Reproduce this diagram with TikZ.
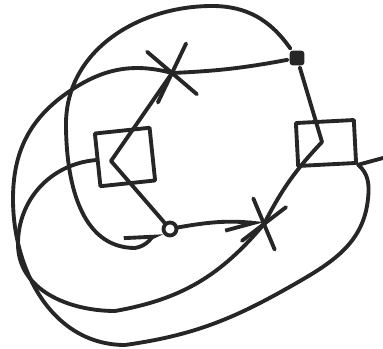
\documentclass[tikz,border=0pt]{standalone}
\usepackage{tikz}
\usetikzlibrary{arrows.meta,shapes.misc}

\begin{document}
\begin{tikzpicture}[
  x=0.02cm, y=0.02cm,
  line width=2.2pt, line cap=round, line join=round, color=black!85,
  cross/.style={cross out, draw, inner sep=0pt, minimum width=0.72cm, minimum height=0.96cm},
  frame/.style={rectangle, draw, inner sep=0pt},
  blob/.style={rectangle, rounded corners=2pt, fill, inner sep=0pt, minimum size=0.3cm},
  ring/.style={circle, draw, inner sep=0pt, minimum size=0.26cm},
  barb/.style={-{Straight Barb[harpoon, length=0.55cm, width=0.45cm]}},
  barbr/.style={-{Straight Barb[harpoon, swap, length=0.55cm, width=0.42cm]}}
]
\useasboundingbox (0,0) rectangle (383,349);

% Vertices
\node[cross, rotate=12] (xtop) at (172,276) {};
\node[blob] (dot) at (297,291) {};
\node[frame, minimum width=1.16cm, minimum height=0.86cm, rotate=3] (rsq) at (326,206) {};
\node[cross, rotate=-15, minimum width=0.6cm, minimum height=0.8cm] (xbot) at (264,125) {};
\node[ring] (circ) at (170,120) {};
\node[frame, minimum width=1.1cm, minimum height=1.06cm, rotate=6] (lsq) at (125,192) {};

% Hubs
\coordinate (lhub) at (111,188);
\coordinate (rhub) at (322,207);
\coordinate (tail) at (383,191);

% Hexagon
\draw (xtop.center) to[bend right=4] (dot);
\draw (dot) -- (rhub);
\draw (rhub) to[bend right=8] (xbot.center);
\draw[barbr] (circ) to[bend left=8] (xbot.center);
\draw (lhub) -- (circ);
\draw (lhub) -- (xtop.center);
\draw (rsq.south east) -- (tail);

% Loops
\draw[barb] (dot) to[out=125,in=0] (212,343) to[out=180,in=90] (66,225)
  to[out=-90,in=180] (135,101) to[out=10,in=-155] (circ);
\draw (xtop.center) to[out=165,in=35] (67,256) to[out=215,in=90] (13,150)
  to[out=-90,in=180] (125,4) to[out=8,in=-150] (300,68)
  to[out=30,in=-96] (368,150) to[out=84,in=-40] (rsq.south east);
\draw (lsq.west) to[out=185,in=90] (18,105) to[out=-90,in=180] (115,38)
  to[out=10,in=-130] (xbot.center);

\end{tikzpicture}
\end{document}
